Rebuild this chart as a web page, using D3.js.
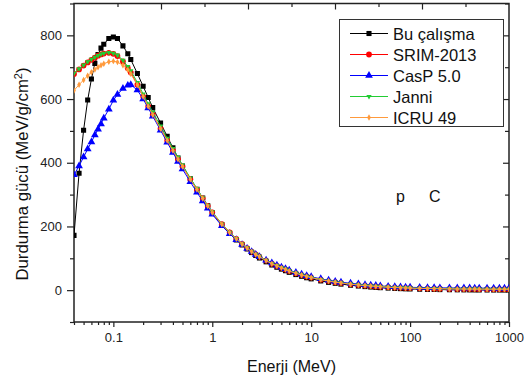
<!DOCTYPE html>
<html>
<head>
<meta charset="utf-8">
<script src="https://cdn.jsdelivr.net/npm/d3@7"></script>
<style>
  body { margin: 0; background: #fff; }
  svg { display: block; font-family: "Liberation Sans", Arial, sans-serif; }
</style>
</head>
<body>
<script>
// energies (MeV) shared by every series
const energies = [0.04,0.045,0.05,0.055,0.06,0.065,0.07,0.075,0.08,0.09,
  0.1,0.11,0.125,0.14,0.15,0.175,0.2,0.225,0.25,0.3,
  0.35,0.4,0.45,0.5,0.6,0.7,0.8,0.9,1,1.25,
  1.5,1.75,2,2.25,2.5,2.75,3,3.5,4,4.5,
  5,5.5,6,7,8,9,10,12.5,15,17.5,
  20,25,30,35,40,45,50,60,70,80,
  90,100,125,150,175,200,250,300,350,400,
  450,500,600,700,800,900,1000];

// stopping power values, MeV/(g/cm2)
const buCalisma = [172,367,502,597,663,712,740,760,772,790,
  795,790,767,742,724,680,640,605,573,525,
  483,447,415,390,350,317,289,265,243,205,
  178,158,142,129,118,109,101,89,79,72,
  66,61,56,49,43.5,39,35.5,29,24.5,21.5,
  19,15.5,13,11.2,9.8,8.7,7.8,6.5,5.5,4.8,
  4.2,3.8,3,2.5,2.1,1.8,1.4,1.1,0.9,0.8,
  0.7,0.6,0.5,0.4,0.35,0.3,0.3];

const srim = [679,693,705,715,723,730,736,740,743,745,
  742,735,718,697,683,645,608,577,551,507,
  470,438,411,388,348,316,288,264,244,207,
  181,161,145,132,121,112,105,93,83,76,
  70,65,60,53,47.5,43,39.5,33,28.5,25,
  22.5,18.8,16.2,14.3,12.9,11.7,10.8,9.3,8.3,7.5,
  6.9,6.4,5.6,5.1,4.7,4.4,4.0,3.7,3.5,3.4,
  3.3,3.2,3.1,3.0,3.0,2.9,2.9];

const casp = [362,390,418,443,465,487,505,522,540,568,
  596,614,633,643,645,628,600,572,546,502,
  464,432,404,380,340,307,280,257,238,202,
  177,158,143,131,121,112,105,94,85,78,
  72,67,62.5,55.5,50,45.5,42,35.5,31,27.5,
  25,21.5,19,17,15.5,14.3,13.3,11.8,10.8,10,
  9.4,8.9,8.2,7.7,7.4,7.2,6.9,6.7,6.6,6.5,
  6.4,6.4,6.3,6.3,6.2,6.2,6.2];

const janni = [681,695,707,717,725,731,737,741,744,746,
  744,738,722,702,689,652,616,585,559,515,
  477,445,417,393,352,319,290,266,246,208,
  182,162,146,133,122,113,106,94,84,77,
  71,66,61,54,48,43.5,40,33.5,29,25.5,
  23,19.2,16.6,14.7,13.2,12,11,9.5,8.5,7.7,
  7.1,6.6,5.7,5.2,4.8,4.5,4.1,3.8,3.6,3.5,
  3.4,3.3,3.2,3.1,3.1,3.0,3.0];

const icru = [627,645,660,673,684,693,700,706,711,717,
  719,716,706,691,679,644,608,577,551,507,
  470,438,411,388,348,316,288,264,244,207,
  181,161,145,132,121,112,105,93,83,76,
  70,65,60,53,47.5,43,39.5,33,28.5,25,
  22.5,18.8,16.2,14.3,12.9,11.7,10.8,9.3,8.3,7.5,
  6.9,6.4,5.6,5.1,4.7,4.4,4.0,3.7,3.5,3.4,
  3.3,3.2,3.1,3.0,3.0,2.9,2.9];

const seriesNames = ['Bu çalışma', 'SRIM-2013', 'CasP 5.0', 'Janni', 'ICRU 49'];
const xMajorTicks = [0.1, 1, 10, 100, 1000];
const yMajorTicks = [0, 200, 400, 600, 800];
const yMinorTicks = [-100, 100, 300, 500, 700, 900];

const width = 530, height = 380;
const margin = { left: 74, right: 21, top: 3.5, bottom: 58 };
const x0 = margin.left, x1 = width - margin.right;
const y0 = margin.top, y1 = height - margin.bottom;

const svg = d3.select('body').append('svg')
  .attr('width', width)
  .attr('height', height);

const x = d3.scaleLog().domain([0.04, 1000]).range([x0, x1]);
const y = d3.scaleLinear().domain([-100, 900]).range([y1, y0]);

// minor ticks for the log axis: 2..9 of each decade
const xMinorTicks = [];
[0.01, 0.1, 1, 10, 100].forEach(d => {
  for (let k = 2; k <= 9; k++) {
    const v = +(d * k).toPrecision(3);
    if (v >= 0.04 && v <= 1000) xMinorTicks.push(v);
  }
});

function styleAxis(g) {
  g.select('.domain').remove();
  g.selectAll('line').attr('stroke', '#222').attr('stroke-width', 1.2);
  g.selectAll('text')
    .attr('fill', '#222')
    .style('font-family', '"Liberation Sans", Arial, sans-serif')
    .style('font-size', '13px');
}

// bottom axis
svg.append('g')
  .attr('transform', `translate(0,${y1})`)
  .call(d3.axisBottom(x).tickValues(xMinorTicks).tickSize(3).tickFormat(''))
  .call(styleAxis);
svg.append('g')
  .attr('transform', `translate(0,${y1})`)
  .call(d3.axisBottom(x).tickValues(xMajorTicks).tickSize(5).tickPadding(6)
    .tickFormat(d3.format('~g')))
  .call(styleAxis);

// left axis
svg.append('g')
  .attr('transform', `translate(${x0},0)`)
  .call(d3.axisLeft(y).tickValues(yMinorTicks).tickSize(4).tickFormat(''))
  .call(styleAxis);
svg.append('g')
  .attr('transform', `translate(${x0},0)`)
  .call(d3.axisLeft(y).tickValues(yMajorTicks).tickSize(7).tickPadding(5))
  .call(styleAxis);

// right axis, ticks inside
svg.append('g')
  .attr('transform', `translate(${x1},0)`)
  .call(d3.axisRight(y).tickValues(yMinorTicks).tickSize(-4).tickFormat(''))
  .call(styleAxis);
svg.append('g')
  .attr('transform', `translate(${x1},0)`)
  .call(d3.axisRight(y).tickValues(yMajorTicks).tickSize(-6).tickFormat(''))
  .call(styleAxis);

// top axis (linked linear axis in the original), ticks inside
const xTop = d3.scaleLinear().domain([0, 10]).range([x0, x1]);
svg.append('g')
  .attr('transform', `translate(0,${y0})`)
  .call(d3.axisTop(xTop).tickValues([1, 3, 5, 7, 9]).tickSize(-3.5).tickFormat(''))
  .call(styleAxis);
svg.append('g')
  .attr('transform', `translate(0,${y0})`)
  .call(d3.axisTop(xTop).tickValues([2, 4, 6, 8]).tickSize(-6).tickFormat(''))
  .call(styleAxis);

// frame
svg.append('rect')
  .attr('x', x0).attr('y', y0)
  .attr('width', x1 - x0).attr('height', y1 - y0)
  .attr('fill', 'none')
  .attr('stroke', '#222')
  .attr('stroke-width', 1.5);

// clip
svg.append('clipPath').attr('id', 'plot-clip')
  .append('rect')
    .attr('x', x0).attr('y', y0)
    .attr('width', x1 - x0).attr('height', y1 - y0);

const series = [
  { name: seriesNames[0], values: buCalisma, color: '#000000', symbol: d3.symbolSquare, size: 26, rotate: 0 },
  { name: seriesNames[1], values: srim, color: '#ff0000', symbol: d3.symbolCircle, size: 26, rotate: 0 },
  { name: seriesNames[2], values: casp, color: '#0000ff', symbol: d3.symbolTriangle, size: 26, rotate: 0 },
  { name: seriesNames[3], values: janni, color: '#22cc33', symbol: d3.symbolTriangle, size: 12, rotate: 180 },
  { name: seriesNames[4], values: icru, color: '#ff9a3c', symbol: d3.symbolDiamond, size: 12, rotate: 0 }
];

const line = d3.line()
  .x(d => x(d[0]))
  .y(d => y(d[1]));

const plot = svg.append('g').attr('clip-path', 'url(#plot-clip)');

series.forEach(s => {
  const pts = energies.map((e, i) => [e, s.values[i]]);
  const g = plot.append('g');
  g.append('path')
    .datum(pts)
    .attr('d', line)
    .attr('fill', 'none')
    .attr('stroke', s.color)
    .attr('stroke-width', 1);
  g.selectAll('path.mark')
    .data(pts)
    .enter()
    .append('path')
      .attr('class', 'mark')
      .attr('d', d3.symbol().type(s.symbol).size(s.size))
      .attr('transform', d => `translate(${x(d[0])},${y(d[1])}) rotate(${s.rotate})`)
      .attr('fill', s.color);
});

// legend
const legend = svg.append('g');
legend.append('rect')
  .attr('x', 339.5).attr('y', 19.5)
  .attr('width', 164).attr('height', 107)
  .attr('fill', '#fff')
  .attr('stroke', '#333')
  .attr('stroke-width', 1);

series.forEach((s, i) => {
  const ly = 33.5 + i * 21;
  legend.append('line')
    .attr('x1', 350).attr('x2', 388)
    .attr('y1', ly).attr('y2', ly)
    .attr('stroke', s.color).attr('stroke-width', 1);
  legend.append('path')
    .attr('d', d3.symbol().type(s.symbol).size(s.size))
    .attr('transform', `translate(369,${ly}) rotate(${s.rotate})`)
    .attr('fill', s.color);
  legend.append('text')
    .attr('x', 393).attr('y', ly + 6)
    .style('font-size', '16.5px')
    .attr('fill', '#111')
    .text(s.name);
});

// annotations
svg.append('text')
  .attr('x', 396).attr('y', 202)
  .style('font-size', '16px')
  .attr('fill', '#111')
  .text('p');
svg.append('text')
  .attr('x', 429).attr('y', 202)
  .style('font-size', '16px')
  .attr('fill', '#111')
  .text('C');

// axis titles
svg.append('text')
  .attr('x', (x0 + x1) / 2).attr('y', 372)
  .attr('text-anchor', 'middle')
  .style('font-size', '16px')
  .attr('fill', '#111')
  .text('Enerji (MeV)');

const yTitle = svg.append('text')
  .attr('transform', 'translate(28,174) rotate(-90)')
  .attr('text-anchor', 'middle')
  .style('font-size', '16.8px')
  .attr('fill', '#111');
yTitle.append('tspan').text('Durdurma gücü (MeV/g/cm');
yTitle.append('tspan').attr('dy', -6).style('font-size', '11px').text('2');
yTitle.append('tspan').attr('dy', 6).text(')');
</script>
</body>
</html>
